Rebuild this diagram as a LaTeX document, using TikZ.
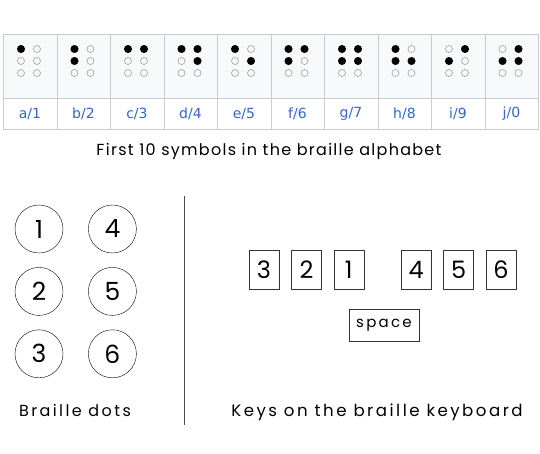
\documentclass[tikz,border=0pt]{standalone}
\usepackage{fontspec}
\setmainfont{Poppins}
\newfontfamily\wikifont{DejaVu Sans}
\newfontfamily\gothic[LetterSpace=8]{Poppins}
\newfontfamily\gothicwide[LetterSpace=15]{Poppins}
\usetikzlibrary{positioning}
\definecolor{cellline}{HTML}{C8CCD1}
\definecolor{cellfill}{HTML}{F8F9FA}
\definecolor{linkblue}{HTML}{3366CC}
\definecolor{holegray}{HTML}{AAAAAA}

\begin{document}
\begin{tikzpicture}[x=1pt,y=-1pt,
        cell node/.style={draw=cellline,fill=cellfill,minimum width=53.5pt,
            minimum height=64pt,inner sep=0pt,anchor=north west},
        label node/.style={draw=cellline,fill=white,minimum width=53.5pt,
            minimum height=31pt,inner sep=0pt,anchor=north,
            font=\wikifont\fontsize{14}{14}\selectfont,text=linkblue},
        hole/.style={draw=holegray,line width=0.7pt},
        dot node/.style={draw,circle,minimum size=48pt,inner sep=0pt,
            font=\fontsize{25}{25}\selectfont},
        key node/.style={draw=black!80,minimum width=30pt,minimum height=39pt,
            inner sep=0pt,font=\fontsize{24}{24}\selectfont},
        caption node/.style={font=\gothic\fontsize{16}{16}\selectfont},
        wide caption/.style={font=\gothicwide\fontsize{16}{16}\selectfont}]

        \useasboundingbox (0,0) rectangle (540,453);

        % Define table cells
        \foreach \i/\l/\n/\pat in {1/a/1/{1},2/b/2/{1,2},3/c/3/{1,4},
                4/d/4/{1,4,5},5/e/5/{1,5},6/f/6/{1,2,4},7/g/7/{1,2,4,5},
                8/h/8/{1,2,5},9/i/9/{2,4},10/j/0/{2,4,5}}{
            \pgfmathsetmacro\cx{3+(\i-1)*53.5}
            \node[cell node] (c\i) at (\cx,34) {};
            \node[label node] (l\i) at (c\i.south) {\l/\n};
            \foreach \col in {0,1}
                \foreach \row in {0,1,2}
                    \draw[hole] (\cx+18+16*\col,49+12*\row) circle (3.5pt);
            \foreach \d in \pat {
                \pgfmathtruncatemacro\col{\d>3}
                \pgfmathtruncatemacro\row{mod(\d-1,3)}
                \fill (\cx+18+16*\col,49+12*\row) circle (4pt);
            }
        }
        \node[caption node] (alphabet) at (269,151) {First 10 symbols in the braille alphabet};

        % Define braille dots
        \node[dot node] (d1) at (39,229) {1};
        \node[dot node] (d2) [below=14pt of d1] {2};
        \node[dot node] (d3) [below=14pt of d2] {3};
        \node[dot node] (d4) [right=25pt of d1] {4};
        \node[dot node] (d5) [below=14pt of d4] {5};
        \node[dot node] (d6) [below=14pt of d5] {6};
        \node[wide caption] (dots) at (75,410) {Braille dots};

        % Separator
        \coordinate (top) at (184,196);
        \coordinate (bottom) at (184,425);
        \draw[black!70] (top) -- (bottom);

        % Define keys
        \node[key node] (k3) at (264,270) {3};
        \node[key node] (k2) [right=12pt of k3] {2};
        \node[key node] (k1) [right=12pt of k2] {1};
        \node[key node] (k4) [right=37pt of k1] {4};
        \node[key node] (k5) [right=12pt of k4] {5};
        \node[key node] (k6) [right=12pt of k5] {6};
        \node[key node,minimum width=70pt,minimum height=32pt,
            font=\gothicwide\fontsize{15}{15}\selectfont] (space) at (384,325) {space};
        \node[wide caption,font=\gothicwide\fontsize{16.6}{16.6}\selectfont] (keys)
            at (377,412) {Keys on the braille keyboard};

\end{tikzpicture}
\end{document}
